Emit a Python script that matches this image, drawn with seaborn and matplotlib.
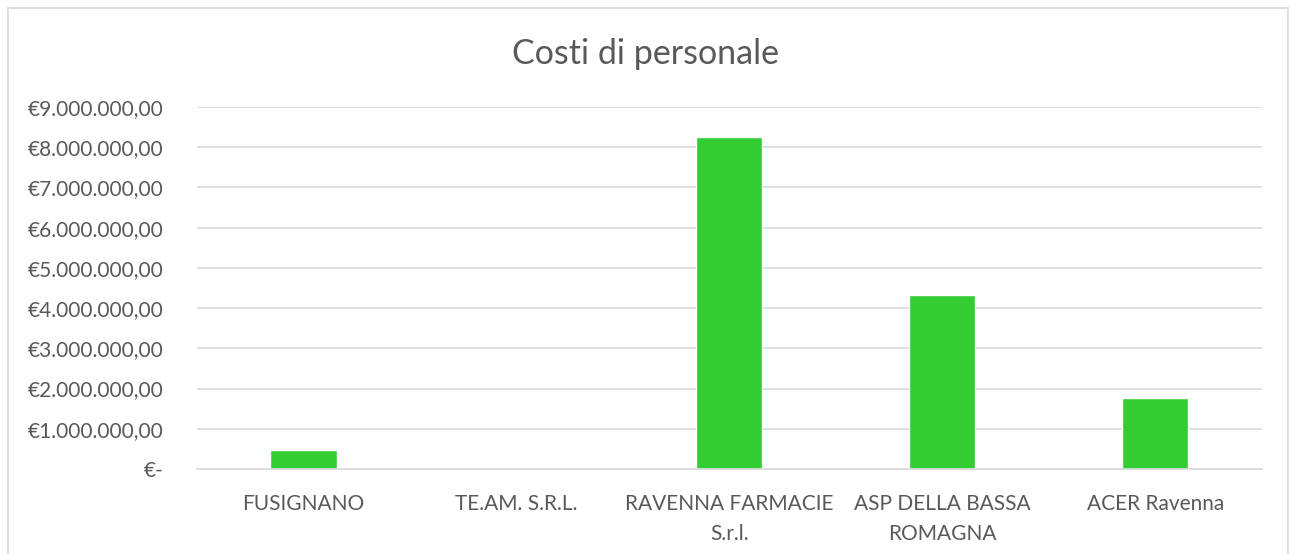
import matplotlib
matplotlib.use("Agg")
import matplotlib.pyplot as plt
import seaborn as sns
import pandas as pd
from matplotlib.ticker import FuncFormatter
from matplotlib.patches import Rectangle

# Dati
enti = ["FUSIGNANO", "TE.AM. S.R.L.", "RAVENNA FARMACIE S.r.l.",
        "ASP DELLA BASSA ROMAGNA", "ACER Ravenna"]
etichette = ["FUSIGNANO", "TE.AM. S.R.L.", "RAVENNA FARMACIE\nS.r.l.",
             "ASP DELLA BASSA\nROMAGNA", "ACER Ravenna"]
costi = [465000, 0, 8250000, 4320000, 1760000]

df = pd.DataFrame({"Ente": enti, "Costi": costi})

sns.set_theme(style="white")
plt.rcParams['font.family'] = ['Lato', 'DejaVu Sans']

grigio = "#595959"
fig = plt.figure(figsize=(12.91, 5.54), dpi=100)
ax = fig.add_axes([0.1526, 0.1534, 0.8249, 0.6535])

sns.barplot(data=df, x="Ente", y="Costi", color="#33CC33", saturation=1,
            width=0.31, ax=ax)

ax.set_ylim(0, 9000000)
ax.set_yticks(range(0, 9000001, 1000000))


def euro(v, pos):
    if v == 0:
        return "€-"
    s = f"{v:,.2f}".replace(",", "X").replace(".", ",").replace("X", ".")
    return "€" + s


ax.yaxis.set_major_formatter(FuncFormatter(euro))
ax.set_xticks(range(len(etichette)))
ax.set_xticklabels(etichette, linespacing=1.6)
ax.tick_params(axis="both", colors=grigio, labelsize=15, length=0)
ax.tick_params(axis="x", pad=18)
ax.tick_params(axis="y", pad=24)
ax.grid(axis="y", color="#D9D9D9", linewidth=1.2)
ax.set_axisbelow(True)
for s in ["top", "right", "left"]:
    ax.spines[s].set_visible(False)
ax.spines["bottom"].set_color("#D9D9D9")
ax.spines["bottom"].set_linewidth(1.2)
ax.set_xlabel("")
ax.set_ylabel("")

fig.text(0.5, 0.903, "Costi di personale", ha="center", va="center",
         fontsize=24.5, color=grigio)

# bordo del grafico
fig.patches.append(Rectangle((0.006, -0.01), 0.992, 0.995, transform=fig.transFigure,
                             fill=False, edgecolor="#D9D9D9", linewidth=1.2))

fig.savefig("out.png", dpi=100)
